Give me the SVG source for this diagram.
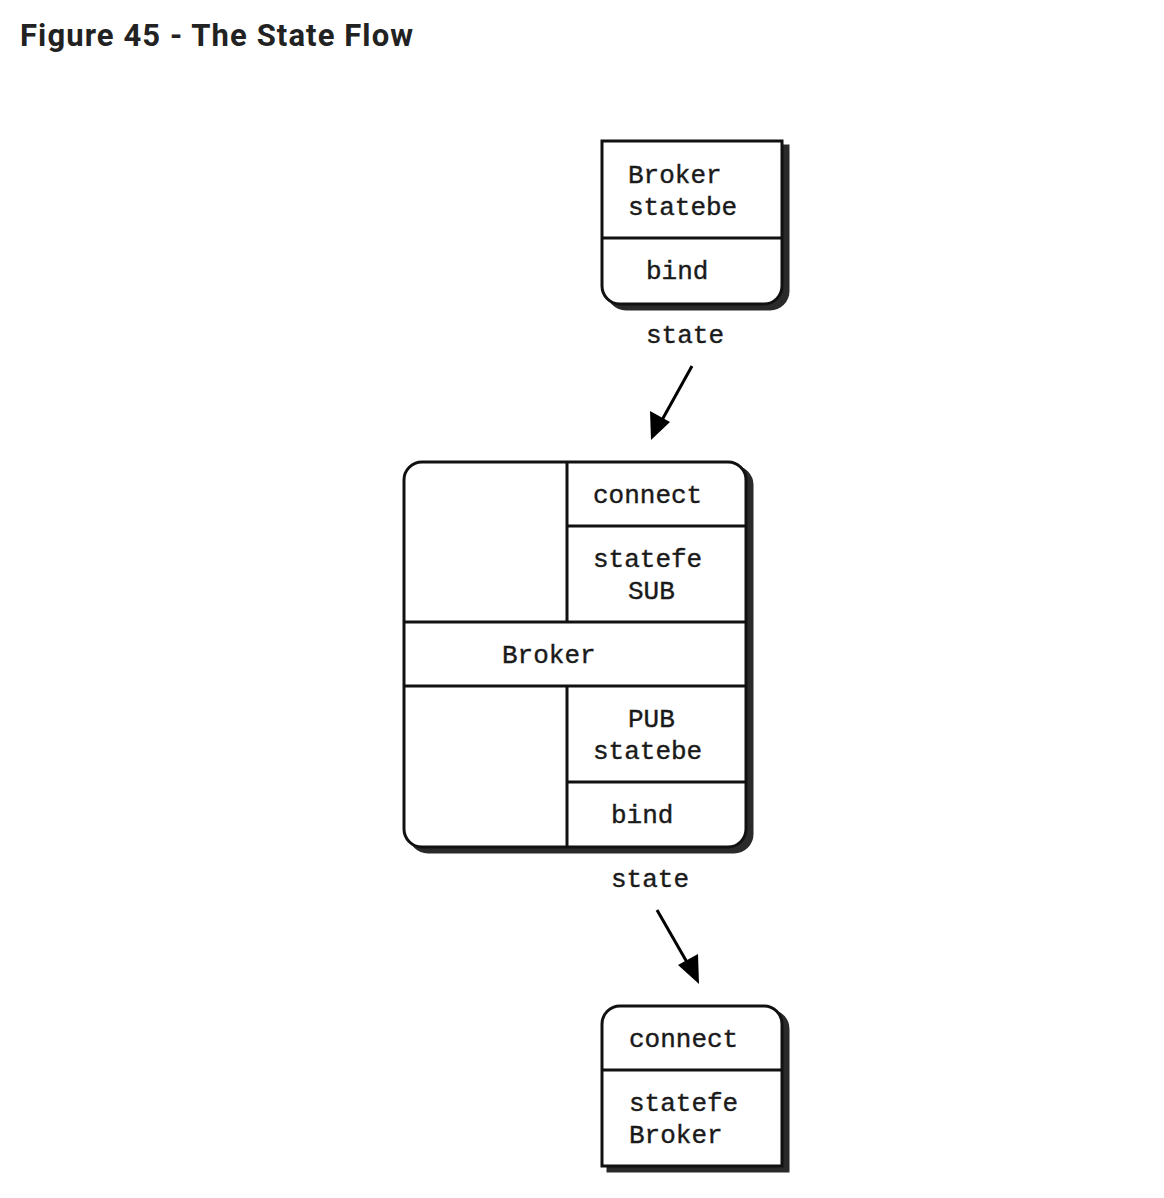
<svg xmlns="http://www.w3.org/2000/svg" width="1164" height="1198" viewBox="0 0 1164 1198">
<defs>
<style>
.box{fill:#fff;stroke:#111;stroke-width:3}
.shadow{fill:#2a2a2a;stroke:#2a2a2a;stroke-width:3}
.div{stroke:#111;stroke-width:3;fill:none}
.t{font-family:"Liberation Mono","DejaVu Sans Mono",monospace;font-size:26px;fill:#1a1a1a;stroke:#1a1a1a;stroke-width:0.4}
.title{font-family:Roboto,"Liberation Sans",sans-serif;font-weight:bold;font-size:31px;fill:#222}
.conn{stroke:#000;stroke-width:3;fill:none}
</style>
</defs>
<rect width="1164" height="1198" fill="#fff"/>
<text class="title" x="20" y="46" textLength="393" lengthAdjust="spacing">Figure 45 - The State Flow</text>

<g id="node-top">
<path class="shadow" d="M608,146 H788 V291 A18,18 0 0 1 770,309 H626 A18,18 0 0 1 608,291 Z"/>
<path class="box" d="M602,141 H782 V286 A18,18 0 0 1 764,304 H620 A18,18 0 0 1 602,286 Z"/>
<line class="div" x1="602" y1="238" x2="782" y2="238"/>
<text class="t" x="628" y="183">Broker</text>
<text class="t" x="628" y="215">statebe</text>
<text class="t" x="646" y="279">bind</text>
</g>

<g id="node-middle">
<rect class="shadow" x="410" y="467" width="342" height="385" rx="18" ry="18"/>
<rect class="box" x="404" y="462" width="342" height="385" rx="18" ry="18"/>
<line class="div" x1="567" y1="462" x2="567" y2="622"/>
<line class="div" x1="567" y1="686" x2="567" y2="847"/>
<line class="div" x1="567" y1="526" x2="746" y2="526"/>
<line class="div" x1="404" y1="622" x2="746" y2="622"/>
<line class="div" x1="404" y1="686" x2="746" y2="686"/>
<line class="div" x1="567" y1="782" x2="746" y2="782"/>
<text class="t" x="593" y="503">connect</text>
<text class="t" x="593" y="567">statefe</text>
<text class="t" x="628" y="599">SUB</text>
<text class="t" x="502" y="663">Broker</text>
<text class="t" x="628" y="727">PUB</text>
<text class="t" x="593" y="759">statebe</text>
<text class="t" x="611" y="823">bind</text>
</g>

<g id="node-bottom">
<path class="shadow" d="M608,1029 A18,18 0 0 1 626,1011 H770 A18,18 0 0 1 788,1029 V1171 H608 Z"/>
<path class="box" d="M602,1024 A18,18 0 0 1 620,1006 H764 A18,18 0 0 1 782,1024 V1166 H602 Z"/>
<line class="div" x1="602" y1="1070" x2="782" y2="1070"/>
<text class="t" x="629" y="1047">connect</text>
<text class="t" x="629" y="1111">statefe</text>
<text class="t" x="629" y="1143">Broker</text>
</g>

<g id="connectors">
<line class="conn" x1="692" y1="366" x2="662" y2="420"/>
<path d="M651,440 L650,411 L670,422 Z" fill="#000"/>
<text class="t" x="646" y="343">state</text>
<line class="conn" x1="657" y1="910" x2="688" y2="964"/>
<path d="M699,984 L678,965 L698,954 Z" fill="#000"/>
<text class="t" x="611" y="887">state</text>
</g>
</svg>
